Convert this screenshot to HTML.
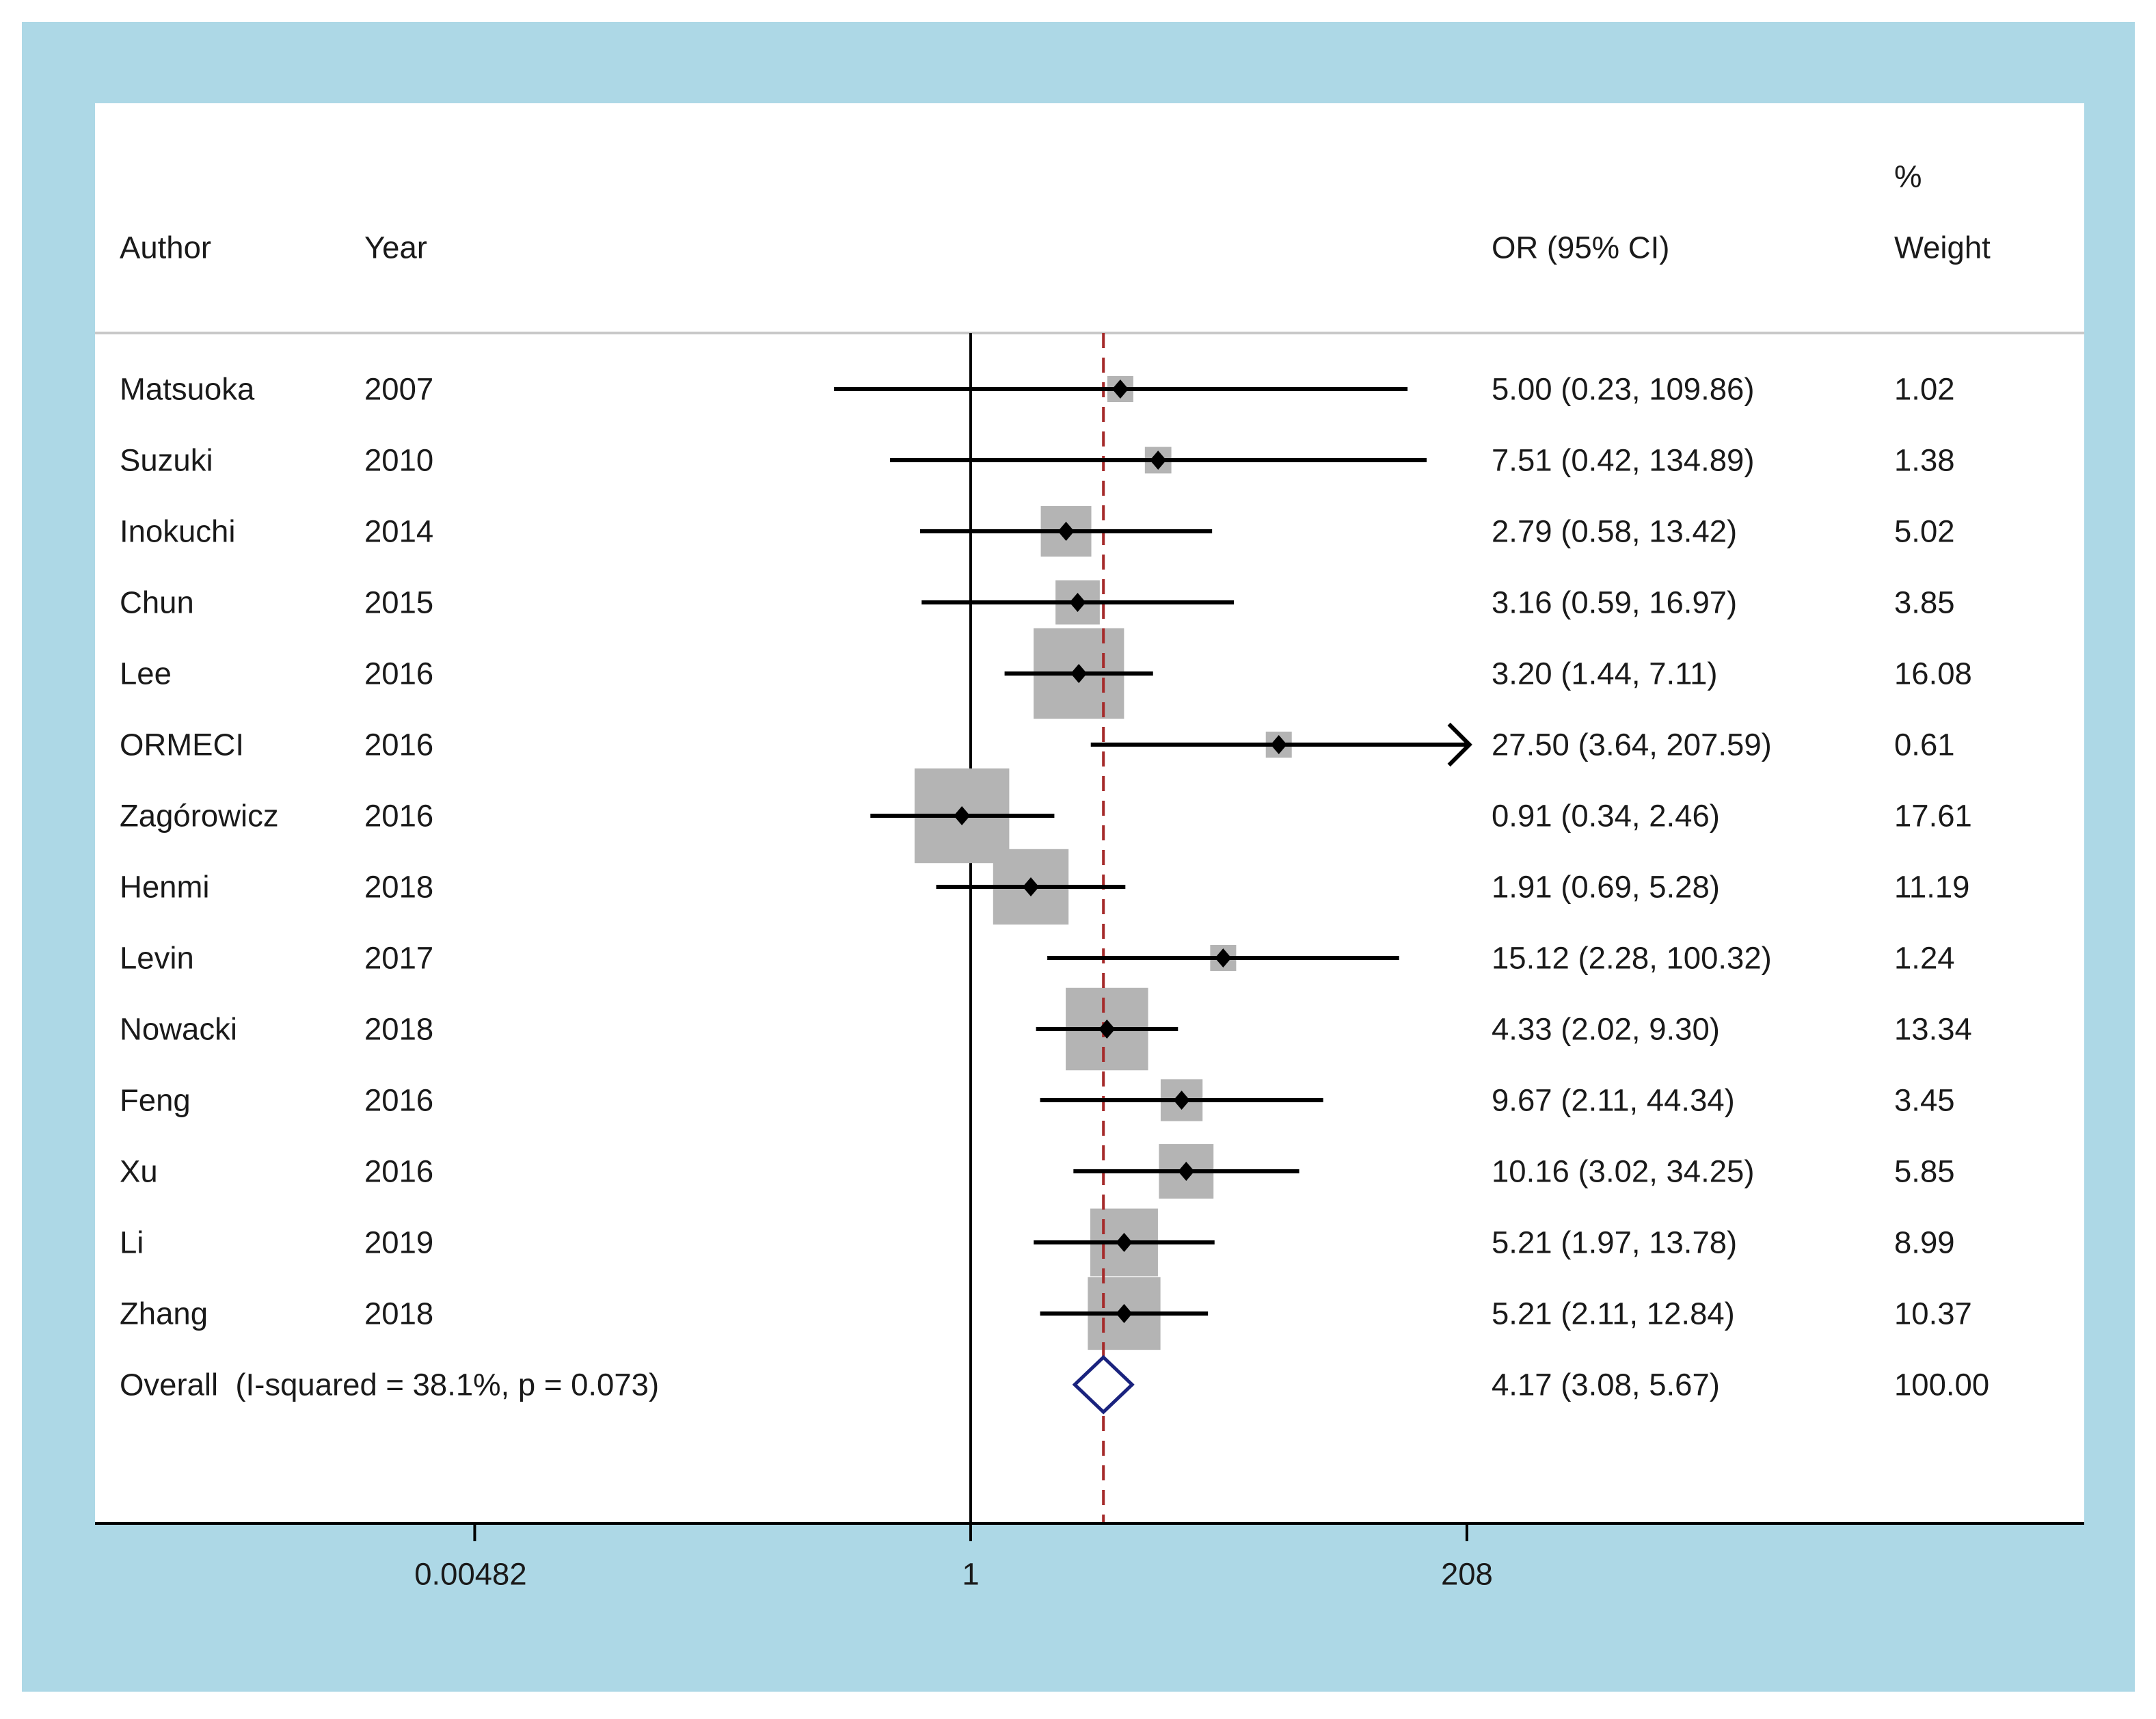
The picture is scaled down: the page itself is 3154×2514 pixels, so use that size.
<!DOCTYPE html>
<html><head><meta charset="utf-8"><style>
html,body{margin:0;padding:0;background:#fff;}
svg{display:block;}
text{font-family:"Liberation Sans",Arial,sans-serif;fill:#1a1a1a;}
</style></head><body>
<svg id="chart" width="3154" height="2514" viewBox="0 0 3154 2514">
<rect x="32" y="32" width="3091" height="2442" fill="#ADD8E6"/>
<rect x="139" y="151" width="2910" height="2077" fill="#ffffff"/>
<line x1="139" y1="487" x2="3049" y2="487" stroke="#c8c8c8" stroke-width="4"/>
<text x="175" y="362" font-size="45.5" dominant-baseline="central">Author</text>
<text x="533" y="362" font-size="45.5" dominant-baseline="central">Year</text>
<text x="2182" y="362" font-size="45.5" dominant-baseline="central">OR (95% CI)</text>
<text x="2771" y="258" font-size="45.5" dominant-baseline="central">%</text>
<text x="2771" y="362" font-size="45.5" dominant-baseline="central">Weight</text>
<g id="marks"></g>
</svg>
<script>
const authors = ["Matsuoka","Suzuki","Inokuchi","Chun","Lee","ORMECI","Zagórowicz","Henmi","Levin","Nowacki","Feng","Xu","Li","Zhang"];
const years = ["2007","2010","2014","2015","2016","2016","2016","2018","2017","2018","2016","2016","2019","2018"];
const orVals = [5.00,7.51,2.79,3.16,3.20,27.50,0.91,1.91,15.12,4.33,9.67,10.16,5.21,5.21];
const loVals = [0.23,0.42,0.58,0.59,1.44,3.64,0.34,0.69,2.28,2.02,2.11,3.02,1.97,2.11];
const hiVals = [109.86,134.89,13.42,16.97,7.11,207.59,2.46,5.28,100.32,9.30,44.34,34.25,13.78,12.84];
const weights = [1.02,1.38,5.02,3.85,16.08,0.61,17.61,11.19,1.24,13.34,3.45,5.85,8.99,10.37];
const overall = [4.17,3.08,5.67];
const overallLabel = "Overall  (I-squared = 38.1%, p = 0.073)";
const tickVals = [0.00482,1,208];
const tickLabels = ["0.00482","1","208"];

const NS="http://www.w3.org/2000/svg";
const g=document.getElementById('marks');
const X0=1420, K=136, FS=45.5;
function xs(v){return X0+K*Math.log(v);}
function ys(i){return 569+i*104;}
function el(tag,attrs){const e=document.createElementNS(NS,tag);for(const k in attrs)e.setAttribute(k,attrs[k]);g.appendChild(e);return e;}
function fmt(v){return v.toFixed(2);}

const axisY=2228;
let e;
e=el('line',{x1:X0,y1:487,x2:X0,y2:axisY,stroke:'#000','stroke-width':4});



authors.forEach((a,i)=>{
  const s=Math.max(38,33*Math.sqrt(weights[i]));
  const b=el('rect',{x:xs(orVals[i])-s/2,y:ys(i)-s/2,width:s,height:s,fill:'#b4b4b4'});
  
  
});
e=el('line',{x1:xs(overall[0]),y1:487,x2:xs(overall[0]),y2:axisY,stroke:'#a52a2a','stroke-width':4,'stroke-dasharray':'22 14'});



authors.forEach((a,i)=>{
  const y=ys(i);
  const maxV=tickVals[2];
  const hi=Math.min(hiVals[i],maxV);
  const l=el('line',{x1:xs(loVals[i]),y1:y,x2:xs(hi),y2:y,stroke:'#000','stroke-width':6});
  
  
  if(hiVals[i]>=207){
    const ax=xs(hi)+4;
    const ar=el('polyline',{points:`${ax-30},${y-30} ${ax},${y} ${ax-30},${y+30}`,fill:'none',stroke:'#000','stroke-width':6});
    
    
  }
  const cx=xs(orVals[i]);
  const d=el('polygon',{points:`${cx},${y-14} ${cx+12},${y} ${cx},${y+14} ${cx-12},${y}`,fill:'#000'});
  
  
  const t1=el('text',{x:175,y:y,'font-size':FS,'dominant-baseline':'central'});t1.textContent=a;
  
  
  const t2=el('text',{x:533,y:y,'font-size':FS,'dominant-baseline':'central'});t2.textContent=years[i];
  
  
  const t3=el('text',{x:2182,y:y,'font-size':FS,'dominant-baseline':'central'});t3.textContent=`${fmt(orVals[i])} (${fmt(loVals[i])}, ${fmt(hiVals[i])})`;
  
  
  const t4=el('text',{x:2771,y:y,'font-size':FS,'dominant-baseline':'central'});t4.textContent=fmt(weights[i]);
  
  
});

const oy=ys(authors.length);
const oc=xs(overall[0]);
e=el('polygon',{points:`${oc},${oy-40} ${oc+42},${oy} ${oc},${oy+40} ${oc-42},${oy}`,fill:'#fff',stroke:'#1a237e','stroke-width':5});


e=el('text',{x:175,y:oy,'font-size':FS,'dominant-baseline':'central'});e.textContent=overallLabel;e.style.whiteSpace='pre';


e=el('text',{x:2182,y:oy,'font-size':FS,'dominant-baseline':'central'});e.textContent=`${fmt(overall[0])} (${fmt(overall[1])}, ${fmt(overall[2])})`;


e=el('text',{x:2771,y:oy,'font-size':FS,'dominant-baseline':'central'});e.textContent="100.00";



e=el('line',{x1:139,y1:axisY,x2:3049,y2:axisY,stroke:'#000','stroke-width':4});


tickVals.forEach((v,i)=>{
  const x=xs(v);
  const t=el('line',{x1:x,y1:axisY,x2:x,y2:axisY+26,stroke:'#000','stroke-width':4});
  
  
  const lb=el('text',{x:x+(i===0?-6:0),y:2302,'font-size':FS,'text-anchor':'middle','dominant-baseline':'central'});lb.textContent=tickLabels[i];
  
  
});
</script>
</body></html>
